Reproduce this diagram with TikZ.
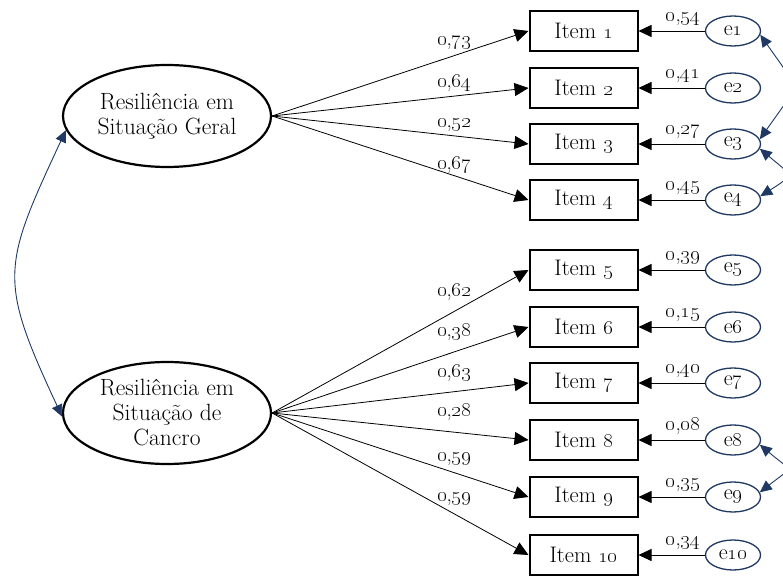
\documentclass[tikz,border=0pt]{standalone}
\usetikzlibrary{arrows.meta, shapes.geometric}
\definecolor{navy}{RGB}{31,56,100}
\newcommand{\coef}[2]{\oldstylenums{#1},\oldstylenums{#2}}

\begin{document}
\begin{tikzpicture}[x=1pt, y=1pt,
        latent/.style={draw=black, line width=2.2pt, ellipse, inner sep=0pt, minimum width=208pt, minimum height=102pt, align=center, font=\fontsize{23.5}{25}\selectfont},
        item/.style={draw=black, line width=2pt, rectangle, minimum width=108pt, minimum height=40pt, font=\fontsize{22.5}{24}\selectfont},
        err/.style={draw=navy, line width=1.3pt, ellipse, inner sep=0pt, minimum width=55pt, minimum height=30pt, font=\fontsize{22}{24}\selectfont},
        load/.style={-{Triangle[length=14pt, width=13pt]}, line width=0.8pt},
        resid/.style={-{Triangle[length=13pt, width=12pt]}, line width=0.8pt},
        cov/.style={{Triangle[length=12pt, width=11pt]}-{Triangle[length=12pt, width=11pt]}, draw=navy, line width=0.9pt},
        coeff/.style={font=\fontsize{21}{22}\selectfont, inner sep=0pt, text height=8pt, text depth=3pt}
    ]
        % Sizes
        \pgfmathsetmacro{\itemx}{583.5}
        \pgfmathsetmacro{\errx}{733}
        \useasboundingbox (0,0) rectangle (783,575);

        % factors
        \node[latent] (geral) at (167, 459) {Resiliência em\\Situação Geral};
        \node[latent] (cancro) at (167, 162) {Resiliência em\\Situação de\\Cancro};

        % items
        \node[item] (i1) at (\itemx, 544) {Item \oldstylenums{1}};
        \node[item] (i2) at (\itemx, 487) {Item \oldstylenums{2}};
        \node[item] (i3) at (\itemx, 431) {Item \oldstylenums{3}};
        \node[item] (i4) at (\itemx, 375) {Item \oldstylenums{4}};
        \node[item] (i5) at (\itemx, 305) {Item \oldstylenums{5}};
        \node[item] (i6) at (\itemx, 248) {Item \oldstylenums{6}};
        \node[item] (i7) at (\itemx, 192) {Item \oldstylenums{7}};
        \node[item] (i8) at (\itemx, 135) {Item \oldstylenums{8}};
        \node[item] (i9) at (\itemx, 78) {Item \oldstylenums{9}};
        \node[item] (i10) at (\itemx, 20) {Item \oldstylenums{10}};

        % errors
        \node[err] (e1) at (\errx, 544) {e\oldstylenums{1}};
        \node[err] (e2) at (\errx, 487) {e\oldstylenums{2}};
        \node[err] (e3) at (\errx, 431) {e\oldstylenums{3}};
        \node[err] (e4) at (\errx, 375) {e\oldstylenums{4}};
        \node[err] (e5) at (\errx, 305) {e\oldstylenums{5}};
        \node[err] (e6) at (\errx, 248) {e\oldstylenums{6}};
        \node[err] (e7) at (\errx, 192) {e\oldstylenums{7}};
        \node[err] (e8) at (\errx, 135) {e\oldstylenums{8}};
        \node[err] (e9) at (\errx, 78) {e\oldstylenums{9}};
        \node[err] (e10) at (\errx, 20) {e\oldstylenums{10}};

        % loadings
        \draw[load] (geral.east) -- (i1.west) node[coeff, pos=0.71, above=7pt] {\coef{0}{73}};
        \draw[load] (geral.east) -- (i2.west) node[coeff, pos=0.71, above=5pt] {\coef{0}{64}};
        \draw[load] (geral.east) -- (i3.west) node[coeff, pos=0.71, above=5pt] {\coef{0}{52}};
        \draw[load] (geral.east) -- (i4.west) node[coeff, pos=0.71, above=3pt] {\coef{0}{67}};
        \draw[load] (cancro.east) -- (i5.west) node[coeff, pos=0.71, above=12pt] {\coef{0}{62}};
        \draw[load] (cancro.east) -- (i6.west) node[coeff, pos=0.71, above=12pt] {\coef{0}{38}};
        \draw[load] (cancro.east) -- (i7.west) node[coeff, pos=0.71, above=11pt] {\coef{0}{63}};
        \draw[load] (cancro.east) -- (i8.west) node[coeff, pos=0.71, above=12pt] {\coef{0}{28}};
        \draw[load] (cancro.east) -- (i9.west) node[coeff, pos=0.71, above=8pt] {\coef{0}{59}};
        \draw[load] (cancro.east) -- (i10.west) node[coeff, pos=0.71, above=9pt] {\coef{0}{59}};

        % residuals
        \draw[resid] (e1) -- (i1) node[coeff, pos=0.33, above=6pt] {\coef{0}{54}};
        \draw[resid] (e2) -- (i2) node[coeff, pos=0.33, above=6pt] {\coef{0}{41}};
        \draw[resid] (e3) -- (i3) node[coeff, pos=0.33, above=6pt] {\coef{0}{27}};
        \draw[resid] (e4) -- (i4) node[coeff, pos=0.33, above=6pt] {\coef{0}{45}};
        \draw[resid] (e5) -- (i5) node[coeff, pos=0.33, above=6pt] {\coef{0}{39}};
        \draw[resid] (e6) -- (i6) node[coeff, pos=0.33, above=6pt] {\coef{0}{15}};
        \draw[resid] (e7) -- (i7) node[coeff, pos=0.33, above=6pt] {\coef{0}{40}};
        \draw[resid] (e8) -- (i8) node[coeff, pos=0.33, above=6pt] {\coef{0}{08}};
        \draw[resid] (e9) -- (i9) node[coeff, pos=0.33, above=6pt] {\coef{0}{35}};
        \draw[resid] (e10) -- (i10) node[coeff, pos=0.33, above=6pt] {\coef{0}{34}};

        % covariances
        \draw[cov] (geral.188) to[out=245, in=115, looseness=1.35] (cancro.182);
        \draw[cov] (e1.-8) to[out=-55, in=55, looseness=1.7] (e3.10);
        \draw[cov] (e3.-10) to[out=-40, in=32, looseness=2.2] (e4.8);
        \draw[cov] (e8.-10) to[out=-40, in=38, looseness=2.3] (e9.10);
\end{tikzpicture}
\end{document}
